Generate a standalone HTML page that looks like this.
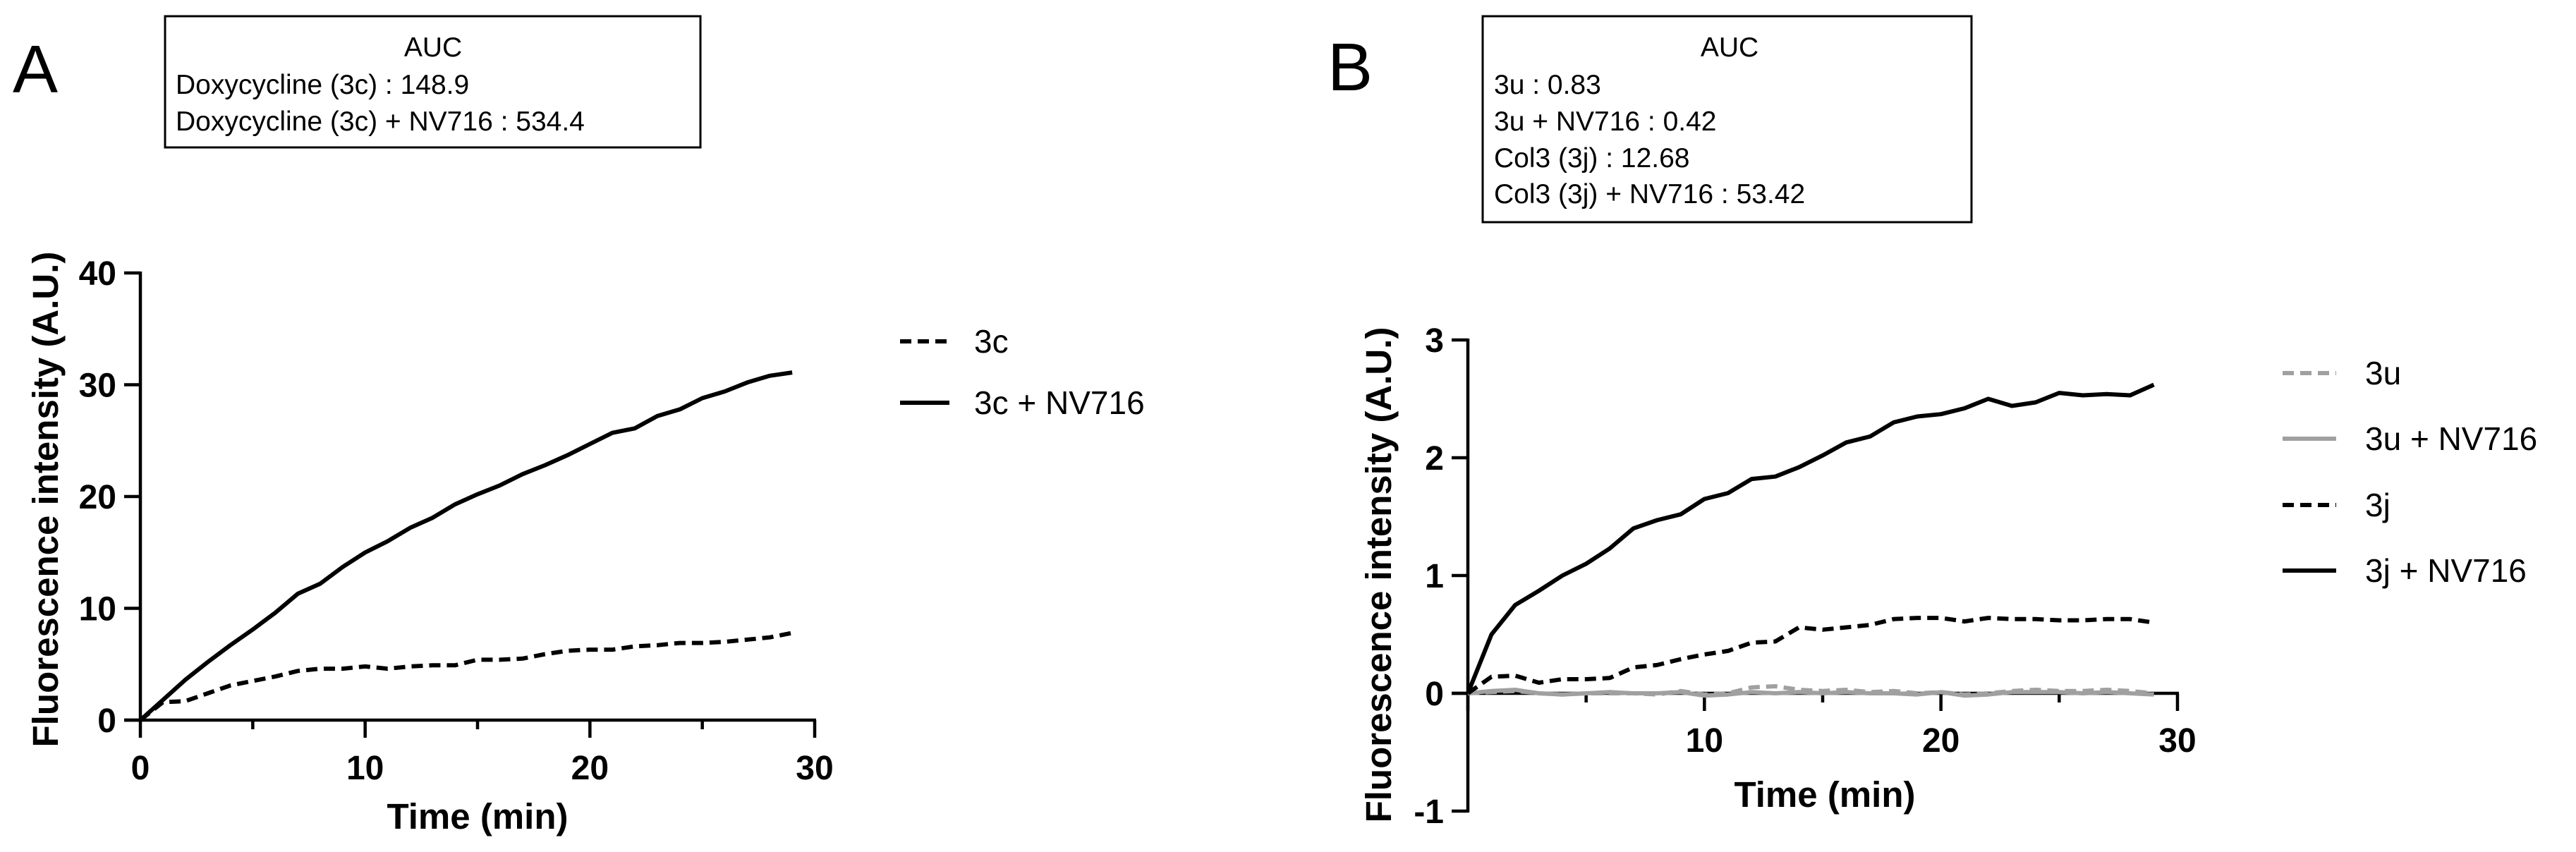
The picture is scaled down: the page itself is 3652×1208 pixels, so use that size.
<!DOCTYPE html>
<html><head><meta charset="utf-8"><style>
html,body{margin:0;padding:0;background:#fff;}
svg{display:block;font-family:"Liberation Sans",Arial,sans-serif;}
</style></head><body>
<svg id="fig" width="3652" height="1208" viewBox="0 0 3652 1208" xmlns="http://www.w3.org/2000/svg">
<g>
<text x="18" y="131" font-size="96">A</text>
<rect x="234" y="23" width="759" height="186" fill="none" stroke="#000" stroke-width="3"/>
<text x="614" y="80" font-size="39" text-anchor="middle">AUC</text>
<text x="249" y="133" font-size="39">Doxycycline (3c) : 148.9</text>
<text x="249" y="185" font-size="39">Doxycycline (3c) + NV716 : 534.4</text>
<g id="axA"></g>
<text transform="translate(82,708) rotate(-90)" font-size="51" font-weight="bold" text-anchor="middle">Fluorescence intensity (A.U.)</text>
<text x="677" y="1175" font-size="51" font-weight="bold" text-anchor="middle">Time (min)</text>
<line x1="1276" y1="484" x2="1346" y2="484" stroke="#000" stroke-width="6" stroke-dasharray="16,9"/>
<text x="1381" y="500" font-size="46">3c</text>
<line x1="1276" y1="571" x2="1346" y2="571" stroke="#000" stroke-width="6"/>
<text x="1381" y="587" font-size="46">3c + NV716</text>
</g>
<g>
<text x="1882" y="128" font-size="96">B</text>
<rect x="2102" y="23" width="693" height="292" fill="none" stroke="#000" stroke-width="3"/>
<text x="2452" y="80" font-size="39" text-anchor="middle">AUC</text>
<text x="2118" y="133" font-size="39">3u : 0.83</text>
<text x="2118" y="185" font-size="39">3u + NV716 : 0.42</text>
<text x="2118" y="237" font-size="39">Col3 (3j) : 12.68</text>
<text x="2118" y="288" font-size="39">Col3 (3j) + NV716 : 53.42</text>
<g id="axB"></g>
<text transform="translate(1972,815) rotate(-90)" font-size="51" font-weight="bold" text-anchor="middle">Fluorescence intensity (A.U.)</text>
<text x="2587" y="1144" font-size="51" font-weight="bold" text-anchor="middle">Time (min)</text>
<line x1="3236" y1="529" x2="3312" y2="529" stroke="#a0a0a0" stroke-width="6" stroke-dasharray="16,9"/>
<text x="3353" y="545" font-size="46">3u</text>
<line x1="3236" y1="622" x2="3312" y2="622" stroke="#a0a0a0" stroke-width="6"/>
<text x="3353" y="638" font-size="46">3u + NV716</text>
<line x1="3236" y1="716" x2="3312" y2="716" stroke="#000" stroke-width="6" stroke-dasharray="16,9"/>
<text x="3353" y="732" font-size="46">3j</text>
<line x1="3236" y1="809" x2="3312" y2="809" stroke="#000" stroke-width="6"/>
<text x="3353" y="825" font-size="46">3j + NV716</text>
</g>
</svg>
<script>
const timeA = [0,1,2,3,4,5,6,7,8,9,10,11,12,13,14,15,16,17,18,19,20,21,22,23,24,25,26,27,28,29];
const series3c = [0,1.6,1.7,2.4,3.1,3.5,3.9,4.4,4.6,4.6,4.8,4.6,4.8,4.9,4.9,5.4,5.4,5.5,5.9,6.2,6.3,6.3,6.6,6.7,6.9,6.9,7.0,7.2,7.4,7.8];
const series3cNV = [0,1.8,3.6,5.2,6.7,8.1,9.6,11.3,12.2,13.7,15.0,16.0,17.2,18.1,19.3,20.2,21.0,22.0,22.8,23.7,24.7,25.7,26.1,27.2,27.8,28.8,29.4,30.2,30.8,31.1];
const yTicksA = [0,10,20,30,40];
const xTicksA = [0,10,20,30];
const timeB = [0,1,2,3,4,5,6,7,8,9,10,11,12,13,14,15,16,17,18,19,20,21,22,23,24,25,26,27,28,29];
const series3u = [0,0.01,0.02,0,-0.01,0,0,0,-0.01,0.02,-0.01,0,0.05,0.06,0.03,0.02,0.03,0.01,0.02,0,0.01,-0.01,0,0.02,0.03,0.02,0.02,0.03,0.02,0];
const series3uNV = [0,0.02,0.03,0,-0.01,0,0.01,0,0,0.01,-0.02,-0.01,0.01,0,0.01,0,0.01,0,0,-0.01,0.01,-0.02,-0.01,0.01,0.01,0.01,0,0.01,0,-0.01];
const series3j = [0,0.14,0.15,0.09,0.12,0.12,0.13,0.22,0.24,0.29,0.33,0.36,0.43,0.44,0.56,0.54,0.56,0.58,0.63,0.64,0.64,0.61,0.64,0.63,0.63,0.62,0.62,0.63,0.63,0.6];
const series3jNV = [0,0.5,0.75,0.87,1.0,1.1,1.23,1.4,1.47,1.52,1.65,1.7,1.82,1.84,1.92,2.02,2.13,2.18,2.3,2.35,2.37,2.42,2.5,2.44,2.47,2.55,2.53,2.54,2.53,2.62];
const yTicksB = [-1,0,1,2,3];
const xTicksB = [10,20,30];

const NS = "http://www.w3.org/2000/svg";
function mk(parent, tag, attrs){const e=document.createElementNS(NS,tag);for(const k in attrs)e.setAttribute(k,attrs[k]);parent.appendChild(e);return e;}

function drawAxes(g, o){
  const xs = v => o.x0 + (v - o.xmin)/(o.xmax - o.xmin)*(o.x1 - o.x0);
  const ys = v => o.y0 - (v - o.ymin)/(o.ymax - o.ymin)*(o.y0 - o.y1);
  const yAxis = mk(g,'line',{x1:o.x0,y1:ys(o.ymin)+2,x2:o.x0,y2:ys(o.ymax)-2,stroke:'#000','stroke-width':4.5});
  
  
  const xAxis = mk(g,'line',{x1:o.x0-23,y1:ys(0),x2:o.x1+2,y2:ys(0),stroke:'#000','stroke-width':4.5});
  
  
  o.yTicks.forEach(v=>{
    const t = mk(g,'line',{x1:o.x0-23,y1:ys(v),x2:o.x0,y2:ys(v),stroke:'#000','stroke-width':4.5});
    
    
    const l = mk(g,'text',{x:o.x0-34,y:ys(v)+17,'font-size':48,'font-weight':'bold','text-anchor':'end'});
    l.textContent = v;
    
    
  });
  for(let v=o.xmin; v<=o.xmax; v+=5){
    const major = v % 10 === 0;
    const t = mk(g,'line',{x1:xs(v),y1:ys(0),x2:xs(v),y2:ys(0)+(major?25:13),stroke:'#000','stroke-width':4.5});
    
    
  }
  o.xTicks.forEach(v=>{
    const l = mk(g,'text',{x:xs(v),y:o.xLabelY,'font-size':48,'font-weight':'bold','text-anchor':'middle'});
    l.textContent = v;
    
    
  });
  return {xs, ys};
}
function drawLine(g, sc, xv, yv, color, dash, name){
  const d = xv.map((x,i)=>(i?'L':'M')+sc.xs(x).toFixed(1)+','+sc.ys(yv[i]).toFixed(1)).join(' ');
  const p = mk(g,'path',{d:d,fill:'none',stroke:color,'stroke-width':6,'stroke-linejoin':'round'});
  if(dash) p.setAttribute('stroke-dasharray',dash);
  
  
}
const gA = document.getElementById('axA');
const scA = drawAxes(gA,{x0:199,x1:1155,xmin:0,xmax:30,y0:1021,y1:387,ymin:0,ymax:40,yTicks:yTicksA,xTicks:xTicksA,xLabelY:1105});
drawLine(gA,scA,timeA,series3c,'#000','16,9','line-3c');
drawLine(gA,scA,timeA,series3cNV,'#000',null,'line-3c-nv716');

const gB = document.getElementById('axB');
const scB = drawAxes(gB,{x0:2081,x1:3087,xmin:0,xmax:30,y0:1150,y1:482,ymin:-1,ymax:3,yTicks:yTicksB,xTicks:xTicksB,xLabelY:1066});
drawLine(gB,scB,timeB,series3u,'#a0a0a0','16,9','line-3u');
drawLine(gB,scB,timeB,series3uNV,'#a0a0a0',null,'line-3u-nv716');
drawLine(gB,scB,timeB,series3j,'#000','16,9','line-3j');
drawLine(gB,scB,timeB,series3jNV,'#000',null,'line-3j-nv716');
</script>
</body></html>
